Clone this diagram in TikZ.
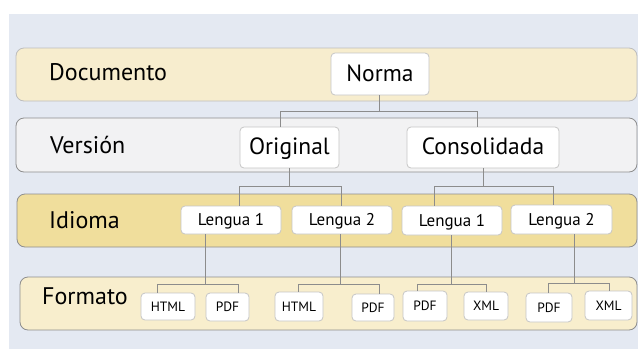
\documentclass[tikz,border=0pt]{standalone}
\usepackage{fontspec}
\setmainfont{PT Sans}
\definecolor{bg}{HTML}{E4E9F2}
\definecolor{docfill}{HTML}{F7EDCE}
\definecolor{verfill}{HTML}{F2F2F3}
\definecolor{idifill}{HTML}{F0DE9C}
\definecolor{forfill}{HTML}{F8EECD}
\definecolor{bandlinelight}{HTML}{BDBDBD}
\definecolor{bandline}{HTML}{8E8E8E}
\definecolor{boxline}{HTML}{C6C6C6}
\definecolor{conline}{HTML}{8C8C8C}
\begin{document}
\begin{tikzpicture}[x=1pt,y=-1pt,
  band/.style={draw=bandline, line width=0.8pt, rounded corners=8pt},
  bandlabel/.style={anchor=base west, inner sep=0pt, font=\fontsize{24}{24}\selectfont},
  wbox/.style={draw=boxline, fill=white, line width=0.8pt, rounded corners=4pt, inner sep=0pt},
  bigbox/.style={wbox, font=\fontsize{23.5}{24}\selectfont, text height=17pt, text depth=3pt},
  midbox/.style={wbox, font=\fontsize{17}{18}\selectfont, text height=12pt, text depth=1pt},
  smallbox/.style={wbox, font=\fontsize{13.5}{14}\selectfont, text height=10pt, text depth=1pt},
  conn/.style={draw=conline, line width=0.8pt}]
\useasboundingbox (0,0) rectangle (638,349);
\fill[white] (0,0) rectangle (638,349);
\fill[bg] (9,14) rectangle (638,349);
% bands
\draw[band, draw=bandlinelight, fill=docfill] (16,48) rectangle (637,101);
\draw[band, fill=verfill] (16,118) rectangle (637,172);
\draw[band, fill=idifill] (17,194) rectangle (637,247);
\draw[band, fill=forfill] (20,277) rectangle (637,330);
% band labels
\node[bandlabel] (ldoc) at (49,80) {Documento};
\node[bandlabel] (lver) at (50,153) {Versión};
\node[bandlabel] (lidi) at (49,228) {Idioma};
\node[bandlabel] (lfor) at (42,304) {Formato};
% nodes
\node[bigbox, minimum width=98pt, minimum height=42pt] (norma) at (380,74) {Norma};
\node[bigbox, minimum width=99pt, minimum height=41pt] (orig) at (289.5,147.5) {Original};
\node[bigbox, minimum width=152pt, minimum height=41pt] (cons) at (483,147.5) {Consolidada};
\node[midbox, minimum width=100pt, minimum height=28pt] (la1) at (231,220) {Lengua 1};
\node[midbox, minimum width=100pt, minimum height=28pt] (la2) at (342,220) {Lengua 2};
\node[midbox, minimum width=100pt, minimum height=29pt] (lb1) at (452,220.5) {Lengua 1};
\node[midbox, minimum width=101pt, minimum height=29pt] (lb2) at (561.5,219.5) {Lengua 2};
\node[smallbox, minimum width=54pt, minimum height=27pt] (h1) at (168,306.5) {HTML};
\node[smallbox, minimum width=43pt, minimum height=28pt] (p1) at (227.5,307) {PDF};
\node[smallbox, minimum width=48pt, minimum height=29pt] (h2) at (299,306.5) {HTML};
\node[smallbox, minimum width=42pt, minimum height=27pt] (p2) at (373,307.5) {PDF};
\node[smallbox, minimum width=44pt, minimum height=30pt] (p3) at (425,306) {PDF};
\node[smallbox, minimum width=44pt, minimum height=28pt] (x3) at (486,306) {XML};
\node[smallbox, minimum width=46pt, minimum height=29pt] (p4) at (549,307.5) {PDF};
\node[smallbox, minimum width=47pt, minimum height=29pt] (x4) at (608.5,305.5) {XML};
% junction coordinates
\coordinate (a0) at (379,111); \coordinate (a1) at (280,111); \coordinate (a2) at (477,111);
\coordinate (b0) at (289,186); \coordinate (b1) at (239,186); \coordinate (b2) at (341,186);
\coordinate (c0) at (483,186); \coordinate (c1) at (434,186); \coordinate (c2) at (553,186);
\coordinate (d0) at (205,284); \coordinate (d1) at (157,284); \coordinate (d2) at (238,284);
\coordinate (e0) at (340,284); \coordinate (e1) at (298,284); \coordinate (e2) at (379,284);
\coordinate (f0) at (451,284); \coordinate (f1) at (417,284); \coordinate (f2) at (486,284);
\coordinate (g0) at (574,283); \coordinate (g1) at (548,283); \coordinate (g2) at (609,283);
% connectors
\draw[conn] (norma.south -| a0) -- (a0);
\draw[conn] (orig.north -| a1) -- (a1) -- (a2) -- (cons.north -| a2);
\draw[conn] (orig.south -| b0) -- (b0);
\draw[conn] (la1.north -| b1) -- (b1) -- (b2) -- (la2.north -| b2);
\draw[conn] (cons.south -| c0) -- (c0);
\draw[conn] (lb1.north -| c1) -- (c1) -- (c2) -- (lb2.north -| c2);
\draw[conn] (la1.south -| d0) -- (d0);
\draw[conn] (h1.north -| d1) -- (d1) -- (d2) -- (p1.north -| d2);
\draw[conn] (la2.south -| e0) -- (e0);
\draw[conn] (h2.north -| e1) -- (e1) -- (e2) -- (p2.north -| e2);
\draw[conn] (lb1.south -| f0) -- (f0);
\draw[conn] (p3.north -| f1) -- (f1) -- (f2) -- (x3.north -| f2);
\draw[conn] (lb2.south -| g0) -- (g0);
\draw[conn] (p4.north -| g1) -- (g1) -- (g2) -- (x4.north -| g2);
\end{tikzpicture}
\end{document}
